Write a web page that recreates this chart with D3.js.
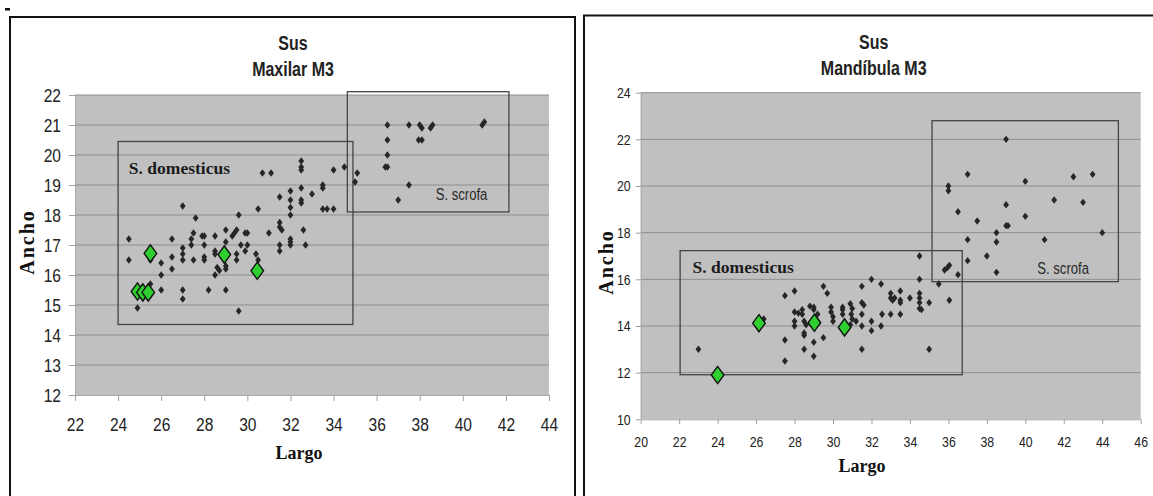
<!DOCTYPE html>
<html>
<head>
<meta charset="utf-8">
<script src="https://cdn.jsdelivr.net/npm/d3@7"></script>
<style>
  body { margin: 0; background: #fff; }
  svg { display: block; }
</style>
</head>
<body>
<svg id="chart" width="1153" height="496"></svg>
<script>
// ---- Maxilar M3 (left) ----
const maxilarTitle = ['Sus', 'Maxilar M3'];
const maxilarXTicks = [22, 24, 26, 28, 30, 32, 34, 36, 38, 40, 42, 44];
const maxilarYTicks = [12, 13, 14, 15, 16, 17, 18, 19, 20, 21, 22];
const maxilarBlack = [
  [24.5,17.2],[24.5,16.5],[24.9,14.9],[25.5,15.7],[25.5,16.5],[26,16.4],[26,16.0],[26,15.5],
  [26.5,17.2],[26.5,16.6],[26.5,16.2],[27,18.3],[27,16.9],[27,16.7],[27,16.5],[27,15.5],[27,15.2],
  [27.4,17.0],[27.4,17.2],[27.5,17.4],[27.5,16.5],[27.6,17.9],[27.9,17.3],[28.0,17.3],[28.0,17.0],
  [28.0,16.6],[28.0,16.5],[28.2,15.5],[28.5,17.3],[28.5,16.8],[28.5,16.7],[28.5,16.0],[28.6,16.25],
  [28.7,16.15],[29.0,17.5],[29.0,17.1],[29.0,16.3],[29.0,16.2],[29.0,15.5],[29.3,17.3],[29.4,17.4],
  [29.5,17.5],[29.5,16.7],[29.5,16.5],[29.6,14.8],[29.6,18.0],[29.7,17.0],[29.9,17.4],[30.0,17.4],
  [29.9,16.8],[30.0,17.0],[30.4,16.7],[30.5,18.2],[30.5,16.5],[30.7,19.4],[31.1,19.4],[31.0,17.4],
  [31.5,18.6],[31.5,17.75],[31.5,17.6],[31.6,17.5],[31.5,17.0],[31.5,16.8],[32.0,18.8],[32.0,18.5],
  [32.0,18.25],[32.0,18.0],[32.0,17.2],[32.0,17.1],[32.0,17.0],[32.5,19.8],[32.5,19.6],[32.5,19.5],
  [32.5,18.9],[32.5,18.5],[32.5,18.4],[32.6,17.5],[32.7,17.0],[33.0,18.7],[33.5,19.0],[33.5,18.9],
  [33.5,18.2],[33.7,18.2],[34.0,18.2],[34.0,19.5],[34.5,19.6],[35.0,19.1],[35.1,19.4],
  [36.5,21.0],[36.5,20.5],[36.5,20.0],[36.4,19.6],[36.5,19.6],[37.0,18.5],[37.5,19.0],[37.5,21.0],
  [38.0,21.0],[38.1,20.9],[37.95,20.5],[38.1,20.5],[38.5,20.9],[38.6,21.0],[40.9,21.0],[41.0,21.1]
];
const maxilarGreen = [[24.9,15.45],[25.15,15.42],[25.4,15.42],[25.5,16.72],[28.93,16.68],[30.46,16.14]];
const maxilarGroups = [
  { name: 'S. domesticus', x0: 24.0, x1: 34.9, y0: 14.35, y1: 20.45, lx: 24.5, ly: 19.36 },
  { name: 'S. scrofa', x0: 34.64, x1: 42.14, y0: 18.1, y1: 22.11, lx: 38.74, ly: 18.5 }
];

// ---- Mandíbula M3 (right) ----
const mandibulaTitle = ['Sus', 'Mandíbula M3'];
const mandibulaXTicks = [20, 22, 24, 26, 28, 30, 32, 34, 36, 38, 40, 42, 44, 46];
const mandibulaYTicks = [10, 12, 14, 16, 18, 20, 22, 24];
const mandibulaBlack = [
  [23.0,13.0],[26.4,14.3],[27.5,15.3],[28.0,15.5],[27.5,13.4],[27.5,12.5],[28.0,14.6],[28.0,14.2],
  [28.0,14.0],[28.2,14.55],[28.4,14.7],[28.4,14.5],[28.5,14.2],[28.5,13.7],[28.5,13.6],[28.5,13.0],
  [28.6,14.05],[28.8,14.85],[29.0,14.8],[29.0,14.7],[29.0,13.3],[29.0,12.7],[29.2,14.5],[29.2,14.2],
  [29.5,15.7],[29.5,13.5],[29.7,15.4],[29.9,14.8],[29.9,14.6],[30.0,14.4],[30.0,14.2],[30.5,14.8],
  [30.5,14.7],[30.5,14.5],[30.9,14.95],[31.0,14.75],[30.95,14.5],[31.0,14.3],[30.9,14.05],[31.2,14.2],
  [31.5,15.7],[31.5,15.0],[31.6,14.9],[31.5,14.5],[31.5,14.0],[31.5,13.0],[32.0,16.0],[32.0,14.2],
  [32.0,13.8],[32.5,15.8],[32.55,14.5],[32.5,14.0],[33.0,15.4],[33.0,15.2],[33.1,15.1],[33.2,15.2],
  [33.0,14.5],[33.5,15.5],[33.5,15.1],[33.5,15.0],[33.5,14.5],[34.0,15.2],[34.5,17.0],[34.5,16.0],
  [34.5,15.4],[34.5,15.2],[34.5,15.0],[34.5,14.75],[34.6,14.7],[35.0,15.0],[35.0,13.0],[35.5,15.8],
  [35.8,16.4],[35.95,16.5],[36.05,16.6],[36.5,16.2],[36.05,15.1],
  [39.0,22.0],[37.0,20.5],[36.0,20.0],[36.0,19.8],[36.5,18.9],[37.5,18.5],[37.0,17.7],[37.0,16.8],
  [38.0,17.0],[38.5,18.0],[38.5,17.6],[38.5,16.3],[39.0,19.2],[39.0,18.3],[39.1,18.3],[40.0,20.2],
  [40.0,18.7],[41.0,17.7],[41.5,19.4],[42.5,20.4],[43.0,19.3],[43.5,20.5],[44.0,18.0]
];
const mandibulaGreen = [[24.0,11.9],[26.15,14.12],[29.03,14.14],[30.6,13.94]];
const mandibulaGroups = [
  { name: 'S. domesticus', x0: 22.05, x1: 36.72, y0: 11.91, y1: 17.23, lx: 22.7, ly: 16.26 },
  { name: 'S. scrofa', x0: 35.15, x1: 44.84, y0: 15.9, y1: 22.8, lx: 40.62, ly: 16.23 }
];

// Arial Narrow look-alike: Liberation Sans squeezed horizontally
const sans = '"Liberation Sans", Arial, sans-serif';
const serif = '"Liberation Serif", "Times New Roman", serif';
const SQ = 0.82;

const svg = d3.select('#chart');

// outer frames and the stray mark of the scan
svg.append('rect').attr('x', 10).attr('y', 17).attr('width', 565).attr('height', 520)
  .attr('fill', 'none').attr('stroke', '#111').attr('stroke-width', 2);
svg.append('rect').attr('x', 584).attr('y', 15.5).attr('width', 620).attr('height', 520)
  .attr('fill', 'none').attr('stroke', '#111').attr('stroke-width', 2);
svg.append('rect').attr('x', 5).attr('y', 8).attr('width', 5).attr('height', 2.5).attr('fill', '#111');

function diamond(hw, hh) {
  return 'M0,' + (-hh) + 'L' + hw + ',0L0,' + hh + 'L' + (-hw) + ',0Z';
}

// narrow text placed at (x, y)
function narrowText(g, x, y, size, weight, txt) {
  return g.append('text')
    .attr('transform', 'translate(' + x + ',' + y + ') scale(' + SQ + ',1)')
    .style('font-family', sans)
    .style('font-weight', weight)
    .style('font-size', size + 'px')
    .text(txt);
}

function drawPanel(p) {
  const g = svg.append('g');
  const x = d3.scaleLinear().domain(d3.extent(p.xTicks)).range([p.left, p.left + p.width]);
  const y = d3.scaleLinear().domain(d3.extent(p.yTicks)).range([p.top + p.height, p.top]);

  g.append('rect')
    .attr('x', p.left).attr('y', p.top)
    .attr('width', p.width).attr('height', p.height)
    .attr('fill', '#c0c0c0');

  // horizontal gridlines
  g.selectAll('line.grid')
    .data(p.yTicks.slice(1))
    .enter().append('line')
    .attr('class', 'grid')
    .attr('x1', p.left).attr('x2', p.left + p.width)
    .attr('y1', d => y(d)).attr('y2', d => y(d))
    .attr('stroke', '#8e8e8e').attr('stroke-width', 1);

  const xAxis = g.append('g')
    .attr('transform', 'translate(0,' + (p.top + p.height) + ')')
    .call(d3.axisBottom(x).tickValues(p.xTicks).tickSize(p.tick).tickPadding(p.xPad).tickSizeOuter(0));
  const yAxis = g.append('g')
    .attr('transform', 'translate(' + p.left + ',0)')
    .call(d3.axisLeft(y).tickValues(p.yTicks).tickSize(p.tick).tickPadding(p.yPad).tickSizeOuter(0));
  [xAxis, yAxis].forEach(a => {
    a.select('.domain').attr('stroke', '#a8a8a8');
    a.selectAll('.tick line').attr('stroke', '#a0a0a0');
    a.selectAll('.tick text')
      .attr('fill', '#222')
      .style('font-family', sans)
      .style('font-size', p.tickFont + 'px');
  });
  xAxis.selectAll('.tick text').attr('transform', 'scale(' + SQ + ',1)');
  yAxis.selectAll('.tick text')
    .attr('x', -(p.tick + p.yPad) / SQ)
    .attr('transform', 'scale(' + SQ + ',1)');

  // group boxes
  g.selectAll('rect.group')
    .data(p.groups)
    .enter().append('rect')
    .attr('class', 'group')
    .attr('x', d => x(d.x0)).attr('y', d => y(d.y1))
    .attr('width', d => x(d.x1) - x(d.x0))
    .attr('height', d => y(d.y0) - y(d.y1))
    .attr('fill', 'none').attr('stroke', '#444').attr('stroke-width', 1.3);

  p.groups.forEach(d => {
    if (d.name === 'S. scrofa') {
      narrowText(g, x(d.lx), y(d.ly), 16, 'normal', d.name).attr('fill', '#2a2a2a');
    } else {
      g.append('text')
        .attr('x', x(d.lx)).attr('y', y(d.ly))
        .attr('fill', '#1a1a1a')
        .style('font-family', serif).style('font-weight', 'bold').style('font-size', '17.5px')
        .text(d.name);
    }
  });

  g.selectAll('path.black')
    .data(p.black)
    .enter().append('path')
    .attr('class', 'black')
    .attr('transform', d => 'translate(' + x(d[0]) + ',' + y(d[1]) + ')')
    .attr('d', diamond(2.9, 3.7))
    .attr('fill', '#262626');

  g.selectAll('path.green')
    .data(p.green)
    .enter().append('path')
    .attr('class', 'green')
    .attr('transform', d => 'translate(' + x(d[0]) + ',' + y(d[1]) + ')')
    .attr('d', diamond(6.3, 8.6))
    .attr('fill', '#2fcf2f').attr('stroke', '#111').attr('stroke-width', 1.4);

  // titles
  const cx = p.left + p.width / 2 + p.titleShift;
  p.title.forEach((t, i) => {
    narrowText(g, cx, p.titleY + i * 26, 19.5, 'bold', t)
      .attr('text-anchor', 'middle')
      .attr('fill', '#222');
  });

  g.append('text')
    .attr('x', p.xLabel[0]).attr('y', p.xLabel[1])
    .attr('text-anchor', 'middle')
    .attr('fill', '#111')
    .style('font-family', serif).style('font-weight', 'bold').style('font-size', '18px')
    .text('Largo');

  g.append('text')
    .attr('transform', 'translate(' + p.yLabel[0] + ',' + p.yLabel[1] + ') rotate(-90)')
    .attr('text-anchor', 'middle')
    .attr('fill', '#111')
    .style('font-family', serif).style('font-weight', 'bold').style('font-size', '20px')
    .style('letter-spacing', '2px')
    .text('Ancho');
}

drawPanel({
  left: 75, top: 95, width: 474, height: 300,
  xTicks: maxilarXTicks, yTicks: maxilarYTicks,
  black: maxilarBlack, green: maxilarGreen, groups: maxilarGroups,
  title: maxilarTitle, titleY: 50, titleShift: -19,
  tick: 6, xPad: 17, yPad: 8, tickFont: 19, scrofaFont: 16,
  xLabel: [299, 459], yLabel: [34, 242]
});

drawPanel({
  left: 640.7, top: 92.7, width: 500, height: 326.6,
  xTicks: mandibulaXTicks, yTicks: mandibulaYTicks,
  black: mandibulaBlack, green: mandibulaGreen, groups: mandibulaGroups,
  title: mandibulaTitle, titleY: 49, titleShift: -17,
  tick: 5, xPad: 12, yPad: 5, tickFont: 15, scrofaFont: 16,
  xLabel: [862, 472], yLabel: [613, 262]
});
</script>
</body>
</html>
